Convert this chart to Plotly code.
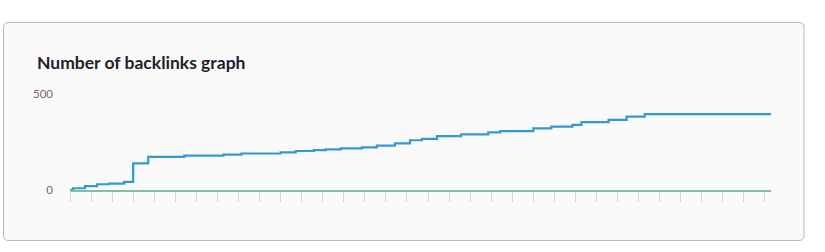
import plotly.graph_objects as go

# Data: cumulative number of backlinks (step changes), x = day index
days = [0, 1, 5, 9, 13, 18, 21, 26, 38, 51, 57, 70, 75, 81, 85, 90, 97, 102, 108,
        113, 117, 122, 130, 139, 143, 154, 160, 167, 170, 179, 185, 191, 233]
backlinks = [0, 9, 20, 30, 33, 42, 139, 173, 179, 184, 190, 196, 203, 208, 212, 217,
             222, 231, 243, 259, 266, 281, 290, 300, 307, 321, 330, 339, 353, 365,
             382, 395, 395]
y_ticks = [0, 500]
title_text = "Number of backlinks graph"

W, H = 825, 252
L, R, T, B = 70, 771.5, 94, 190


def px(x):
    return (x - L) / (R - L)


def py(y):
    return (B - y) / (B - T)


fig = go.Figure()
fig.add_trace(go.Scatter(
    x=days, y=backlinks, mode="lines", line_shape="hv",
    line=dict(color="#3399d4", width=2.2), hoverinfo="x+y", showlegend=False,
))

# card with rounded corners
x0, x1, y0, y1, r = 3.5, 804.5, 22.5, 240.5, 5
pts = (
    f"M {px(x0 + r)} {py(y0)} L {px(x1 - r)} {py(y0)} "
    f"Q {px(x1)} {py(y0)} {px(x1)} {py(y0 + r)} "
    f"L {px(x1)} {py(y1 - r)} Q {px(x1)} {py(y1)} {px(x1 - r)} {py(y1)} "
    f"L {px(x0 + r)} {py(y1)} Q {px(x0)} {py(y1)} {px(x0)} {py(y1 - r)} "
    f"L {px(x0)} {py(y0 + r)} Q {px(x0)} {py(y0)} {px(x0 + r)} {py(y0)} Z"
)
fig.add_shape(type="path", path=pts, xref="paper", yref="paper",
              line=dict(color="#a9bcc7", width=1), fillcolor="#fafafa", layer="below")

fig.add_annotation(x=px(35), y=py(62), xref="paper", yref="paper",
                   text="<b>" + title_text + "</b>", showarrow=False,
                   xanchor="left", yanchor="middle",
                   font=dict(family="Lato, Noto Sans, sans-serif", size=17.5, color="#1f1d2e"))

fig.update_layout(
    width=W, height=H,
    margin=dict(l=L, r=W - R, t=T, b=H - B, pad=0),
    paper_bgcolor="white", plot_bgcolor="rgba(0,0,0,0)",
    font=dict(family="Lato, Noto Sans, sans-serif", size=11.5, color="#7a6274"),
    showlegend=False,
)
fig.update_xaxes(
    range=[0, 233], showgrid=False, zeroline=False, showticklabels=False,
    ticks="outside", tick0=0, dtick=7, ticklen=10, tickwidth=1.2, tickcolor="#cdd6ec",
    showline=True, linecolor="#7fbfa3", linewidth=2, fixedrange=True,
)
fig.update_yaxes(
    range=[0, 500], tickvals=y_ticks, showgrid=True, gridcolor="#ebebeb", gridwidth=1.5,
    zeroline=False, showline=False, ticks="", ticklabelstandoff=16, fixedrange=True,
)

fig.write_html("out.html", config={"displayModeBar": False})
